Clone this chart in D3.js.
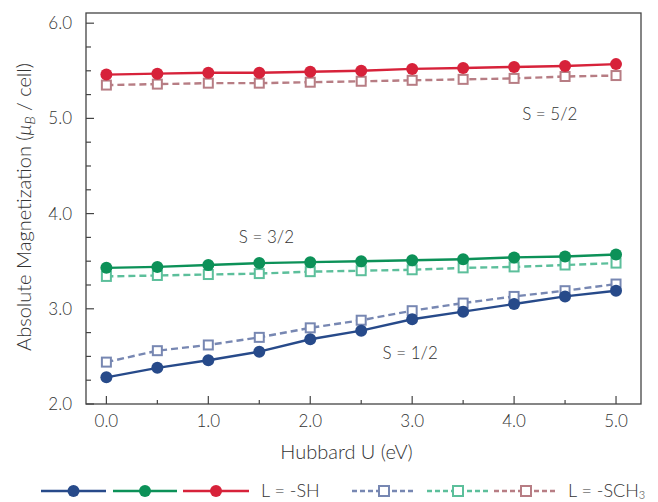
<!DOCTYPE html>
<html><head><meta charset="utf-8">
<script src="https://cdn.jsdelivr.net/npm/d3@7"></script>
<style>
body{margin:0;background:#fff;}
text{font-family:Lato,"Open Sans",sans-serif;fill:#333;}
</style></head>
<body><svg id="c" width="658" height="502"></svg>
<script>
const U = [0.0,0.5,1.0,1.5,2.0,2.5,3.0,3.5,4.0,4.5,5.0];
const sh_half  = [2.28,2.38,2.46,2.55,2.68,2.77,2.89,2.97,3.05,3.13,3.19];
const sh_3half = [3.43,3.44,3.46,3.48,3.49,3.50,3.51,3.52,3.54,3.55,3.57];
const sh_5half = [5.46,5.47,5.48,5.48,5.49,5.50,5.52,5.53,5.54,5.55,5.57];
const sch3_half  = [2.44,2.56,2.62,2.70,2.80,2.88,2.98,3.06,3.13,3.19,3.26];
const sch3_3half = [3.34,3.35,3.36,3.37,3.39,3.40,3.41,3.43,3.44,3.46,3.48];
const sch3_5half = [5.35,5.36,5.37,5.37,5.38,5.39,5.40,5.41,5.42,5.44,5.45];
const xTicks = [0,1,2,3,4,5];
const yTicks = [2,3,4,5,6];
const annotations = [["S = 5/2",4.35,5.05],["S = 3/2",1.57,3.75],["S = 1/2",2.98,2.53]];

const colors = {b:"#274a8a",g:"#0c9158",r:"#d7223a",bd:"#7787b2",gd:"#5cbf9b",rd:"#b77d84"};
const series = [
  {v:sh_half,c:colors.b,dash:false},{v:sh_3half,c:colors.g,dash:false},{v:sh_5half,c:colors.r,dash:false},
  {v:sch3_half,c:colors.bd,dash:true},{v:sch3_3half,c:colors.gd,dash:true},{v:sch3_5half,c:colors.rd,dash:true}
];

const svg = d3.select("#c");
const L=86,R=641,T=13,B=404;
const x = d3.scaleLinear().domain([-0.2,5.245]).range([L,R]);
const y = d3.scaleLinear().domain([2,6.107]).range([B,T]);
const axc="#444";

svg.append("rect").attr("x",L).attr("y",T).attr("width",R-L).attr("height",B-T)
  .attr("fill","none").attr("stroke",axc).attr("stroke-width",1.3);

const yMinor = d3.range(2,6.01,0.25);
svg.append("g").selectAll("line").data(yMinor).join("line")
  .attr("x1",L).attr("x2",d=>L+(Math.abs(d-Math.round(d))<1e-6?8:5))
  .attr("y1",d=>y(d)).attr("y2",d=>y(d)).attr("stroke",axc).attr("stroke-width",1.2);
svg.append("g").selectAll("text").data(yTicks).join("text")
  .attr("x",72).attr("y",d=>y(d)).attr("dy","0.35em").attr("text-anchor","end")
  .attr("font-size",17).attr("font-weight",300).text(d=>d.toFixed(1));
const xMinor = d3.range(0,5.01,0.5);
svg.append("g").selectAll("line").data(xMinor).join("line")
  .attr("x1",d=>x(d)).attr("x2",d=>x(d)).attr("y1",B)
  .attr("y2",d=>B-(Math.abs(d-Math.round(d))<1e-6?8:4)).attr("stroke",axc).attr("stroke-width",1.2);
svg.append("g").selectAll("text").data(xTicks).join("text")
  .attr("x",d=>x(d)).attr("y",427).attr("text-anchor","middle")
  .attr("font-size",17).attr("font-weight",300).text(d=>d.toFixed(1));

svg.append("text").attr("x",(L+R)/2-17).attr("y",459).attr("text-anchor","middle")
  .attr("font-size",20).attr("font-weight",300).text("Hubbard U (eV)");
const yt = svg.append("text").attr("transform","translate(31,207) rotate(-90)")
  .attr("text-anchor","middle").attr("font-size",20).attr("font-weight",300);
yt.append("tspan").text("Absolute Magnetization (");
yt.append("tspan").attr("font-style","italic").text("μ");
yt.append("tspan").attr("font-style","italic").attr("font-size",14).attr("dy",4).text("B");
yt.append("tspan").attr("dy",-4).text(" / cell)");

svg.append("g").selectAll("text").data(annotations).join("text")
  .attr("x",d=>x(d[1])).attr("y",d=>y(d[2])).attr("dy","0.35em").attr("text-anchor","middle")
  .attr("font-size",17).attr("font-weight",300).text(d=>d[0]);

const line = d3.line().x((d,i)=>x(U[i])).y(d=>y(d));
[...series.filter(s=>s.dash),...series.filter(s=>!s.dash)].forEach(s=>{
  svg.append("path").attr("d",line(s.v)).attr("fill","none").attr("stroke",s.c)
    .attr("stroke-width",2.4).attr("stroke-dasharray",s.dash?"7,4":null);
  const g = svg.append("g");
  if(s.dash){
    g.selectAll("rect").data(s.v).join("rect")
      .attr("x",(d,i)=>x(U[i])-4.5).attr("y",d=>y(d)-4.5).attr("width",9).attr("height",9)
      .attr("fill","#fff").attr("stroke",s.c).attr("stroke-width",2);
  } else {
    g.selectAll("circle").data(s.v).join("circle")
      .attr("cx",(d,i)=>x(U[i])).attr("cy",d=>y(d)).attr("r",6).attr("fill",s.c);
  }
});

const ly=491;
const legItems=[[41,106,colors.b,false],[113,177,colors.g,false],[183,249,colors.r,false],
  [352,416,colors.bd,true],[427,489,colors.gd,true],[494,558,colors.rd,true]];
legItems.forEach(([a,b,c,d])=>{
  svg.append("line").attr("x1",a).attr("x2",b).attr("y1",ly).attr("y2",ly)
    .attr("stroke",c).attr("stroke-width",2.4).attr("stroke-dasharray",d?"5,3":null);
  const m=(a+b)/2;
  if(d) svg.append("rect").attr("x",m-5).attr("y",ly-5).attr("width",10).attr("height",10)
    .attr("fill","#fff").attr("stroke",c).attr("stroke-width",2);
  else svg.append("circle").attr("cx",m).attr("cy",ly).attr("r",6).attr("fill",c);
});
svg.append("text").attr("x",261).attr("y",ly).attr("dy","0.35em").attr("font-size",18)
  .attr("font-weight",300).text("L = -SH");
const t2=svg.append("text").attr("x",568).attr("y",ly).attr("dy","0.35em").attr("font-size",18)
  .attr("font-weight",300);
t2.append("tspan").text("L = -SCH");
t2.append("tspan").attr("font-size",11).attr("dy",2).text("3");
</script></body></html>
